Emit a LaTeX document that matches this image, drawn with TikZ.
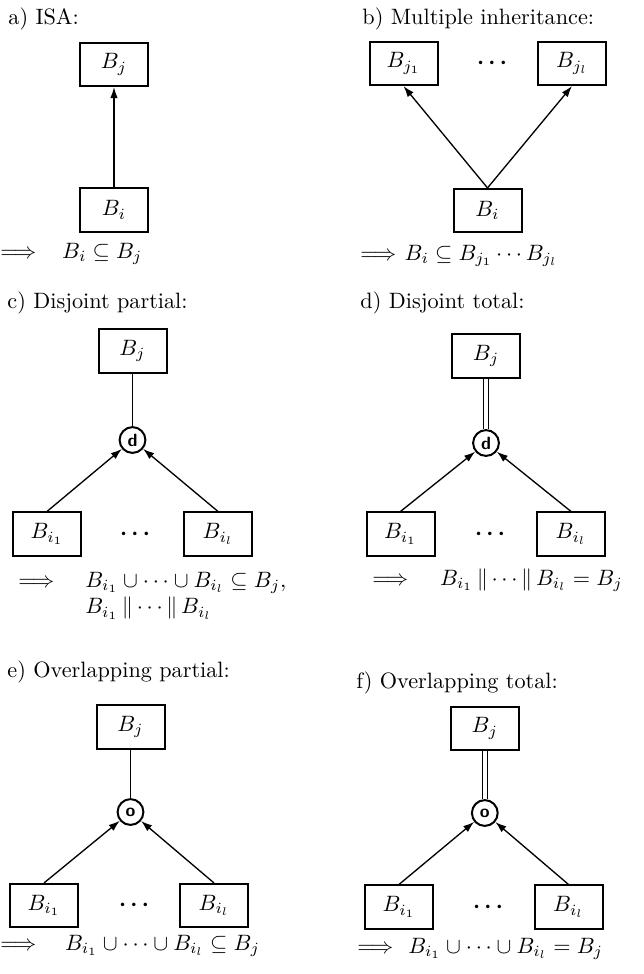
\documentclass[tikz,border=0pt]{standalone}
\usepackage{tikz}
\usetikzlibrary{arrows.meta}

\begin{document}
\begin{tikzpicture}[
  x=0.45pt, y=-0.45pt,
  box/.style={rectangle, draw, minimum width=30.6pt, minimum height=19.4pt, inner sep=0pt, line width=0.9pt},
  gen/.style={circle, draw, minimum size=11.6pt, inner sep=0pt, line width=0.9pt, font=\footnotesize\sffamily\bfseries},
  dots/.style={inner sep=0pt, font=\boldmath},
  arr/.style={-{Latex[length=5pt,width=3.4pt]}, line width=0.6pt},
  tot/.style={double, double distance=1.6pt, line width=0.55pt},
  ttl/.style={anchor=base west, inner sep=0pt},
  frm/.style={anchor=base west, inner sep=0pt}
]
\useasboundingbox (0,0) rectangle (643,974);

% a) ISA
\node[ttl] (ta) at (8,24) {a) ISA:};
\node[box] (a1) at (114,64.5) {$B_j$};
\node[box] (a2) at (114,210) {$B_i$};
\draw[arr] (a2) -- (a1);
\node[frm] (fa) at (0,258) {$\Longrightarrow\hspace{8.9pt}B_i\subseteq B_j$};

% b) multiple inheritance
\node[ttl] (tb) at (362,24) {b) Multiple inheritance:};
\node[box] (b1) at (403.5,63.5) {$B_{j_1}$};
\node[dots] (b2) at (492,63.5) {$\cdots$};
\node[box] (b3) at (572,63.5) {$B_{j_l}$};
\node[box] (b4) at (487.5,210.5) {$B_i$};
\draw[arr] (b4.north) -- (b1.south);
\draw[arr] (b4.north) -- (b3.south);
\node[frm] (fb) at (360,260) {$\Longrightarrow\hspace{1pt}B_i\subseteq B_{j_1}\cdots B_{j_l}$};

% c) disjoint partial
\node[ttl] (tc) at (7,308) {c) Disjoint partial:};
\node[box] (c1) at (132.5,351) {$B_j$};
\node[gen] (c2) at (132.5,440) {d};
\node[box] (c3) at (47,534) {$B_{i_1}$};
\node[dots] (c4) at (135,534) {$\cdots$};
\node[box] (c5) at (218,534) {$B_{i_l}$};
\draw[line width=0.6pt] (c1) -- (c2);
\draw[arr] (c3.north) -- (c2);
\draw[arr] (c5.north) -- (c2);
\node[frm] (fc) at (18,587) {$\begin{array}[t]{@{}l@{\hspace{14pt}}l@{}}
  \Longrightarrow & B_{i_1}\cup\cdots\cup B_{i_l}\subseteq B_j,\\
  & B_{i_1}\,\|\cdots\|\,B_{i_l}
\end{array}$};

% d) disjoint total
\node[ttl] (td) at (360,308) {d) Disjoint total:};
\node[box] (d1) at (486,356) {$B_j$};
\node[gen] (d2) at (486,443) {d};
\node[box] (d3) at (400.5,534) {$B_{i_1}$};
\node[dots] (d4) at (490,534) {$\cdots$};
\node[box] (d5) at (571,534) {$B_{i_l}$};
\draw[tot] (d1) -- (d2);
\draw[arr] (d3.north) -- (d2);
\draw[arr] (d5.north) -- (d2);
\node[frm] (fd) at (372,585) {$\Longrightarrow\hspace{11.6pt}B_{i_1}\,\|\cdots\|\,B_{i_l}=B_j$};

% e) overlapping partial
\node[ttl] (te) at (7,677) {e) Overlapping partial:};
\node[box] (e1) at (130.5,727) {$B_j$};
\node[gen] (e2) at (130.5,812) {o};
\node[box] (e3) at (44,905.5) {$B_{i_1}$};
\node[dots] (e4) at (134,905.5) {$\cdots$};
\node[box] (e5) at (214,905.5) {$B_{i_l}$};
\draw[line width=0.6pt] (e1) -- (e2);
\draw[arr] (e3.north) -- (e2);
\draw[arr] (e5.north) -- (e2);
\node[frm] (fe) at (0,950) {$\Longrightarrow\hspace{10.2pt}B_{i_1}\cup\cdots\cup B_{i_l}\subseteq B_j$};

% f) overlapping total
\node[ttl] (tf) at (356,688) {f) Overlapping total:};
\node[box] (f1) at (484.8,728.5) {$B_j$};
\node[gen] (f2) at (484.8,813) {o};
\node[box] (f3) at (399,907) {$B_{i_1}$};
\node[dots] (f4) at (488,907) {$\cdots$};
\node[box] (f5) at (568.5,907) {$B_{i_l}$};
\draw[tot] (f1) -- (f2);
\draw[arr] (f3.north) -- (f2);
\draw[arr] (f5.north) -- (f2);
\node[frm] (ff) at (357,953) {$\Longrightarrow\hspace{4pt}B_{i_1}\cup\cdots\cup B_{i_l}=B_j$};
\end{tikzpicture}
\end{document}
